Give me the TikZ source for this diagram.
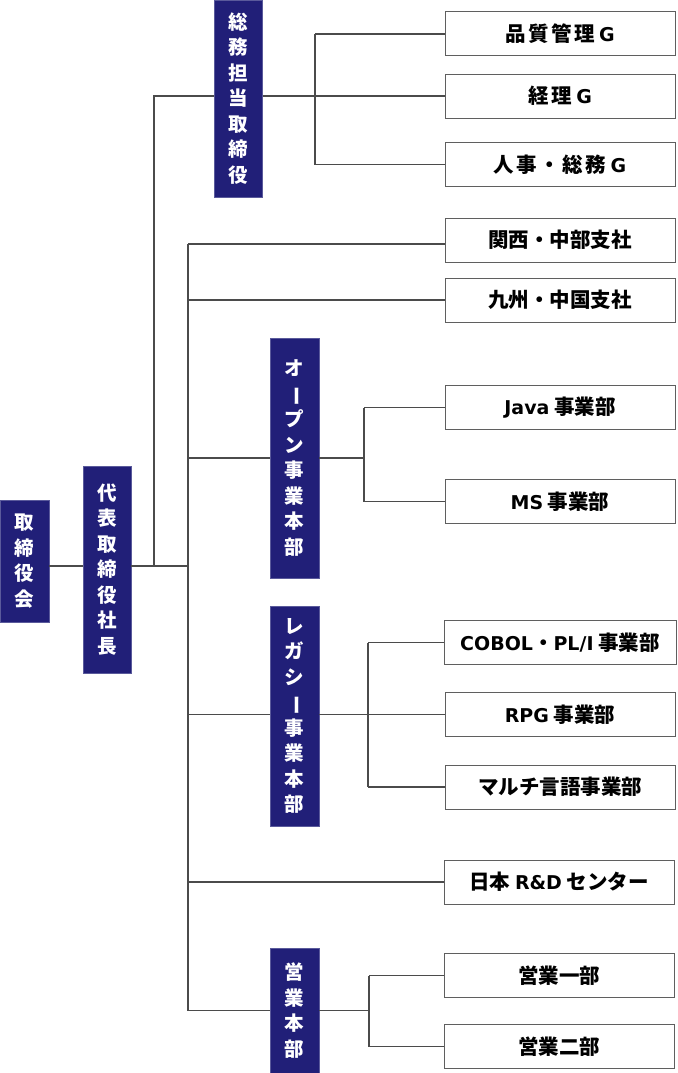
\documentclass[tikz,border=0pt]{standalone}
\usepackage{fontspec}
\setmainfont{Noto Sans CJK JP}
\newfontfamily\latfont{DejaVu Sans}
\newcommand\lat[1]{{\latfont\bfseries\fontsize{19}{22}\selectfont #1}}
\newcommand\vbar{\smash{\rotatebox[origin=c]{-90}{ー}}}
\newcommand\wide{\addfontfeature{LetterSpace=12}}
\definecolor{navy}{RGB}{33,31,120}
\definecolor{navyedge}{RGB}{90,90,155}
\definecolor{linec}{RGB}{75,75,75}
\definecolor{boxedge}{RGB}{95,95,95}
\begin{document}
\begin{tikzpicture}[x=1pt,y=-1pt,
  bluebox/.style={fill=navy, draw=navyedge, line width=0.6pt, text=white,
    font=\bfseries\fontsize{19.5}{25.5}\selectfont, align=center, inner sep=0pt,
    minimum width=49pt},
  orgbox/.style={draw=boxedge, line width=1pt, fill=white, minimum width=230pt,
    minimum height=44pt, inner sep=0pt, font=\bfseries\fontsize{20.5}{24}\selectfont},
  link/.style={draw=linec, line width=1.1pt}]
\useasboundingbox (0,0) rectangle (677,1073);

% blue boxes
\node[bluebox, minimum height=122pt] (tori) at (24.5,561) {取\\締\\役\\会};
\node[bluebox, minimum height=207pt, minimum width=48pt] (daihyo) at (107,569.5) {代\\表\\取\\締\\役\\社\\長};
\node[bluebox, minimum height=197pt, minimum width=48pt] (soumu) at (238.5,98.5) {総\\務\\担\\当\\取\\締\\役};
\node[bluebox, minimum height=240pt] (open) at (294.5,458) {オ\\\vbar\\プ\\ン\\事\\業\\本\\部};
\node[bluebox, minimum height=220pt] (legacy) at (294.5,716) {レ\\ガ\\シ\\\vbar\\事\\業\\本\\部};
\node[bluebox, minimum height=125pt] (eigyo) at (294.5,1010.5) {営\\業\\本\\部};

% white boxes
\node[orgbox] (hin) at (560,34) {{\wide 品質管理} \lat{G}};
\node[orgbox] (keiri) at (560,96) {{\wide 経理} \lat{G}};
\node[orgbox] (jinji) at (560,164.5) {{\wide 人事・総務} \lat{G}};
\node[orgbox] (kansai) at (560,240) {関西・中部支社};
\node[orgbox] (kyushu) at (560,300) {九州・中国支社};
\node[orgbox] (java) at (560,407.5) {\lat{Java} 事業部};
\node[orgbox] (ms) at (560,501.5) {\lat{MS} 事業部};
\node[orgbox, minimum width=232pt] (cobol) at (560,642.5) {\lat{COBOL}・\lat{PL/I} 事業部};
\node[orgbox] (rpg) at (560,714.5) {\lat{RPG} 事業部};
\node[orgbox] (multi) at (560,787) {マルチ言語事業部};
\node[orgbox] (rd) at (559,882) {日本 \lat{R\&D} センター};
\node[orgbox] (e1) at (559,975.5) {営業一部};
\node[orgbox] (e2) at (559,1046.5) {営業二部};

% helper coordinates
\coordinate (m) at (0,566);
\coordinate (vs) at (154,0);
\coordinate (tr) at (188,0);
\coordinate (vg) at (315,0);
\coordinate (vo) at (364,0);
\coordinate (vl) at (368,0);
\coordinate (ve) at (369,0);
\coordinate (kl) at (0,244);

% connectors
\draw[link] (tori.east |- m) -- (daihyo.west |- m);
\draw[link] (daihyo.east |- m) -- (tr |- m);
\draw[link] (vs |- m) -- (vs |- keiri) -- (soumu.west |- keiri);
\draw[link] (soumu.east |- keiri) -- (keiri.west);
\draw[link] (vg |- hin) -- (vg |- jinji);
\draw[link] (vg |- hin) -- (hin.west);
\draw[link] (vg |- jinji) -- (jinji.west);

\draw[link] (tr |- kl) -- (tr |- eigyo);
\draw[link] (tr |- kl) -- (kansai.west |- kl);
\draw[link] (tr |- kyushu) -- (kyushu.west);

\draw[link] (tr |- open) -- (open.west);
\draw[link] (open.east) -- (vo |- open);
\draw[link] (vo |- java) -- (vo |- ms);
\draw[link] (vo |- java) -- (java.west);
\draw[link] (vo |- ms) -- (ms.west);

\draw[link] (tr |- rpg) -- (legacy.west |- rpg);
\draw[link] (legacy.east |- rpg) -- (rpg.west);
\draw[link] (vl |- cobol) -- (vl |- multi);
\draw[link] (vl |- cobol) -- (cobol.west);
\draw[link] (vl |- multi) -- (multi.west);

\draw[link] (tr |- rd) -- (rd.west);

\draw[link] (tr |- eigyo) -- (eigyo.west);
\draw[link] (eigyo.east) -- (ve |- eigyo);
\draw[link] (ve |- e1) -- (ve |- e2);
\draw[link] (ve |- e1) -- (e1.west);
\draw[link] (ve |- e2) -- (e2.west);
\end{tikzpicture}
\end{document}
